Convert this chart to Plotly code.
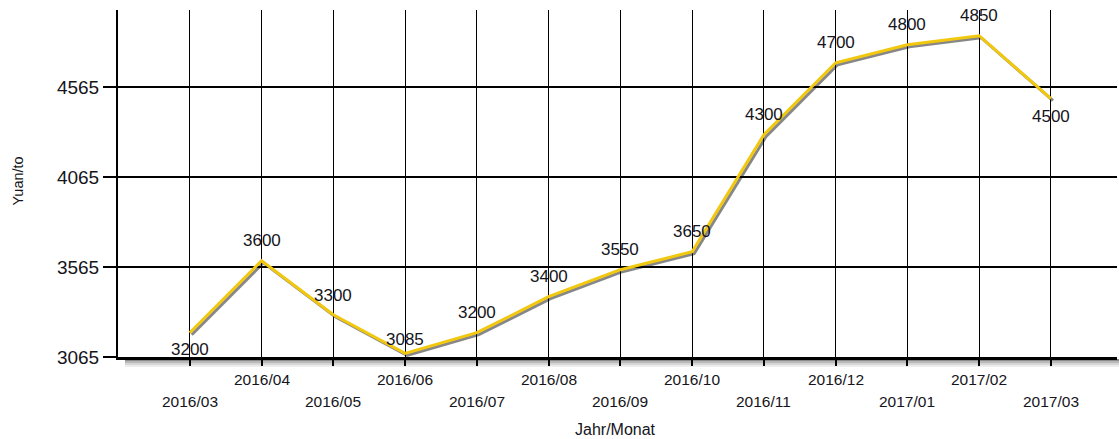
import plotly.graph_objects as go

# ---- data ----
months = ["2016/03", "2016/04", "2016/05", "2016/06", "2016/07", "2016/08", "2016/09",
          "2016/10", "2016/11", "2016/12", "2017/01", "2017/02", "2017/03"]
prices = [3200, 3600, 3300, 3085, 3200, 3400, 3550, 3650, 4300, 4700, 4800, 4850, 4500]
y_ticks = [3065, 3565, 4065, 4565]
x_title = "Jahr/Monat"
y_title = "Yuan/to"

# ---- layout geometry / style ----
W, H = 1119, 439
ML, MR, MT, MB = 118, 0, 10, 80
pw, ph = W - ML - MR, H - MT - MB
sx, sy = 2, 2                       # shadow offset in px
dx, dy = sx / pw, sy / ph
x_range = [-1, 12.92]
y_range = [3065, 4993]
FONT = "Liberation Sans, Arial, sans-serif"
TXT = "#151520"
LINE_COLOR = "#F2C80F"
label_shift = [-17, 20, 19, 14, 20, 20, 20, 20, 20, 20, 20, 20, -18]
row_y = [401, 379]                  # staggered tick label rows (even / odd index)

fig = go.Figure()

# shadow line (drawn on offset invisible axes)
fig.add_trace(go.Scatter(x=months, y=prices, mode="lines", xaxis="x", yaxis="y",
                         line=dict(color="rgba(70,70,70,0.65)", width=3),
                         hoverinfo="skip", showlegend=False))
# main line
fig.add_trace(go.Scatter(x=months, y=prices, mode="lines", xaxis="x2", yaxis="y2",
                         line=dict(color=LINE_COLOR, width=3),
                         showlegend=False))

annotations = []
for m, v, s in zip(months, prices, label_shift):
    annotations.append(dict(x=m, y=v, xref="x2", yref="y2", text=str(v), showarrow=False,
                            yshift=s, font=dict(family=FONT, size=17, color=TXT)))
# staggered category labels
for i, m in enumerate(months):
    annotations.append(dict(x=m, y=0, xref="x2", yref="paper", text=m, showarrow=False,
                            yanchor="middle", yshift=-(row_y[i % 2] - (H - MB)),
                            font=dict(family=FONT, size=15.5, color=TXT)))
annotations.append(dict(x=0.497, y=0, xref="paper", yref="paper", yanchor="middle",
                        xanchor="center", yshift=-(429 - (H - MB)),
                        text=x_title, showarrow=False,
                        font=dict(family=FONT, size=16, color=TXT)))
annotations.append(dict(x=0, y=0.5, xref="paper", yref="paper", text=y_title,
                        xanchor="center", yanchor="middle", xshift=-(ML - 17), yshift=3,
                        textangle=-90, showarrow=False,
                        font=dict(family=FONT, size=14.5, color=TXT)))

shapes = []
for (a, b, op) in [(0, -2, 0.45), (-2, -4, 0.28), (-4, -6, 0.16), (-6, -8, 0.07)]:
    shapes.append(dict(type="rect", xref="paper", yref="paper", x0=(125 - ML) / pw, x1=1,
                       ysizemode="pixel", yanchor=0, y0=a, y1=b, line=dict(width=0),
                       fillcolor=f"rgba(0,0,0,{op})", layer="below"))

fig.update_layout(
    width=W, height=H,
    margin=dict(l=ML, r=MR, t=MT, b=MB, pad=0),
    paper_bgcolor="white", plot_bgcolor="rgba(0,0,0,0)",
    showlegend=False,
    annotations=annotations,
    shapes=shapes,
    xaxis=dict(domain=[dx, 1], range=x_range, type="category", visible=False,
               anchor="y"),
    yaxis=dict(domain=[0, 1 - dy], range=y_range, visible=False, anchor="x"),
    xaxis2=dict(domain=[0, 1 - dx], range=x_range, type="category", anchor="y2",
                tickmode="array", tickvals=months, showticklabels=False,
                ticks="outside", ticklen=6, tickwidth=1.5, tickcolor="black",
                showgrid=True, gridcolor="black", gridwidth=1.4,
                showline=True, linecolor="black", linewidth=2.5,
                zeroline=False, fixedrange=True),
    yaxis2=dict(domain=[dy, 1], range=y_range, anchor="x2",
                tickmode="array", tickvals=y_ticks,
                ticks="outside", ticklen=13, tickwidth=1.5, tickcolor="black",
                showgrid=True, gridcolor="black", gridwidth=1.5,
                showline=True, linecolor="black", linewidth=2,
                tickfont=dict(family=FONT, size=19, color=TXT),
                zeroline=False, fixedrange=True),
)

fig.write_html("out.html", config={"displayModeBar": False},
               post_script="document.body.style.margin='0';document.body.style.overflow='hidden';")
